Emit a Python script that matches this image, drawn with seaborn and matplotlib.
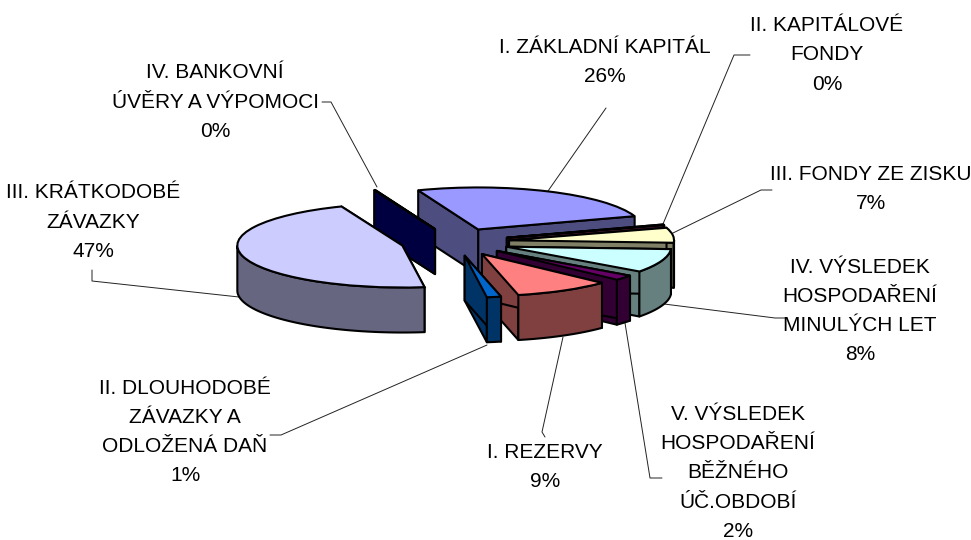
import numpy as np
import matplotlib
matplotlib.use("Agg")
import matplotlib.pyplot as plt
import seaborn as sns

# --- data ---
names = ["I. ZÁKLADNÍ KAPITÁL", "II. KAPITÁLOVÉ\nFONDY", "III. FONDY ZE ZISKU",
         "IV. VÝSLEDEK\nHOSPODAŘENÍ\nMINULÝCH LET", "V. VÝSLEDEK\nHOSPODAŘENÍ\nBĚŽNÉHO\nÚČ.OBDOBÍ",
         "I. REZERVY", "II. DLOUHODOBÉ\nZÁVAZKY A\nODLOŽENÁ DAŇ", "III. KRÁTKODOBÉ\nZÁVAZKY",
         "IV. BANKOVNÍ\nÚVĚRY A VÝPOMOCI"]
values = [26, 0.3, 5.8, 9.2, 2, 9.5, 1.4, 46.5, 0.1]
percent_labels = ["26%", "0%", "7%", "8%", "2%", "9%", "1%", "47%", "0%"]

# --- styling ---
top_colors = ["#9999FF", "#993366", "#FFFFCC", "#CCFFFF", "#660066", "#FF8080", "#0066CC", "#CCCCFF", "#000080"]
side_colors = ["#4D4D80", "#4D1A33", "#808066", "#668080", "#330033", "#804040", "#003366", "#666680", "#000040"]
draw_order = [0, 1, 2, 3, 4, 5, 6, 8, 7]
label_centers = [(605, 62), (827, 55), (871, 189), (860, 311), (738, 473), (545, 467), (185, 432), (93, 222), (215, 102)]
leaders = [[(606, 108), (548, 191)],
           [(750, 55), (734, 55), (663, 224)],
           [(772, 190), (761, 190), (673, 233)],
           [(787, 318), (775, 318), (664, 304)],
           [(662, 478), (650, 478), (625, 323)],
           [(545, 437), (542, 432), (563, 337)],
           [(270, 435), (281, 435), (487, 345)],
           [(92, 270), (92, 281), (239, 297)],
           [(322, 102), (331, 102), (377, 187)]]

W, H = 971, 540
CX, CY, RX, RY, DEPTH = 455, 242, 165, 42, 45
LW = 1.5

sns.set_theme(style="white")
plt.rcParams["font.family"] = ["Liberation Sans", "DejaVu Sans"]

fig = plt.figure(figsize=(W / 100, H / 100), dpi=100, facecolor="white")
ax = fig.add_axes([0, 0, 1, 1])


def px(x, y):
    return (x - CX) / RX, (CY - y) / RY


wedges, _ = ax.pie(values, explode=[0.33] * len(values), colors=sns.color_palette(top_colors),
                   startangle=111.3, counterclock=False, radius=1,
                   wedgeprops=dict(edgecolor="black", linewidth=LW))
depth = DEPTH / RY

for z, i in enumerate(draw_order):
    w = wedges[i]
    cx, cy = w.center
    base = 10 + 3 * z
    side = side_colors[i]
    style = dict(facecolor=side, edgecolor="black", linewidth=LW, joinstyle="round")
    for th in (w.theta1, w.theta2):
        ex, ey = cx + np.cos(np.radians(th)), cy + np.sin(np.radians(th))
        ax.fill([cx, ex, ex, cx], [cy, ey, ey - depth, cy - depth], zorder=base, **style)
    t = np.linspace(w.theta1, w.theta2, 300)
    t = t[np.sin(np.radians(t)) < 0]
    if len(t) > 1:
        ax_x = cx + np.cos(np.radians(t))
        ax_y = cy + np.sin(np.radians(t))
        ax.fill(np.r_[ax_x, ax_x[::-1]], np.r_[ax_y, ax_y[::-1] - depth], zorder=base + 1, **style)
    w.set_zorder(base + 2)

for name, pct, (lx, ly), pts in zip(names, percent_labels, label_centers, leaders):
    tx, ty = px(lx, ly)
    ax.text(tx, ty, f"{name}\n{pct}", ha="center", va="center",
            fontsize=15, color="black", linespacing=1.68, zorder=60)
    xs, ys = zip(*[px(*p) for p in pts])
    ax.plot(xs, ys, color="#222222", lw=0.7, zorder=5)

ax.set_aspect("auto")
ax.set_xlim(-CX / RX, (W - CX) / RX)
ax.set_ylim((CY - H) / RY, CY / RY)
ax.axis("off")
fig.savefig("out.png", dpi=100, facecolor="white")
